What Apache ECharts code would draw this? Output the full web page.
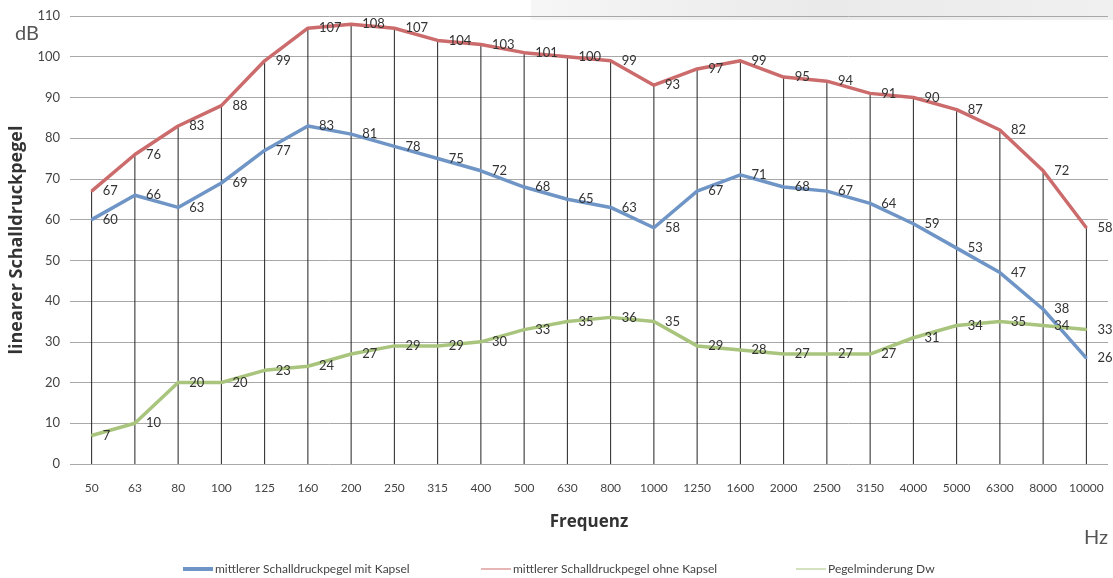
<!DOCTYPE html>
<html>
<head>
<meta charset="utf-8">
<script src="https://cdn.jsdelivr.net/npm/echarts@6/dist/echarts.min.js"></script>
<style>
  html, body { margin: 0; padding: 0; background: #fff; }
  #chart { width: 1113px; height: 578px; }
</style>
</head>
<body>
<div id="chart"></div>
<script>
var frequencies = ['50', '63', '80', '100', '125', '160', '200', '250', '315', '400', '500', '630',
    '800', '1000', '1250', '1600', '2000', '2500', '3150', '4000', '5000', '6300', '8000', '10000'];
var mitKapsel = [60, 66, 63, 69, 77, 83, 81, 78, 75, 72, 68, 65, 63, 58, 67, 71, 68, 67, 64, 59, 53, 47, 38, 26];
var ohneKapsel = [67, 76, 83, 88, 99, 107, 108, 107, 104, 103, 101, 100, 99, 93, 97, 99, 95, 94, 91, 90, 87, 82, 72, 58];
var minderung = [7, 10, 20, 20, 23, 24, 27, 29, 29, 30, 33, 35, 36, 35, 29, 28, 27, 27, 27, 31, 34, 35, 34, 33];
var yTicks = [0, 10, 20, 30, 40, 50, 60, 70, 80, 90, 100, 110];

var nameMit = 'mittlerer Schalldruckpegel mit Kapsel',
    nameOhne = 'mittlerer Schalldruckpegel ohne Kapsel',
    nameDw = 'Pegelminderung Dw';

var font = 'Lato, "Open Sans", sans-serif';
var boldFont = '"Open Sans", "DejaVu Sans", sans-serif';

var chart = echarts.init(document.getElementById('chart'));

function lineLabel() {
    return {
        show: true,
        position: 'right',
        distance: 10,
        offset: [0, 3],
        color: '#333',
        fontSize: 13,
        fontFamily: font
    };
}

function lineSeries(name, data, color) {
    return {
        type: 'line',
        name: name,
        data: data,
        symbol: 'circle',
        symbolSize: 2,
        showSymbol: true,
        color: color,
        itemStyle: { color: color },
        lineStyle: { width: 3.5, color: color },
        label: lineLabel(),
        labelLayout: { hideOverlap: false },
        z: 3
    };
}

function legendFor(name, left, h) {
    return {
        data: [name],
        left: left,
        top: 558,
        icon: 'rect',
        itemWidth: 30,
        itemHeight: h,
        itemGap: 4,
        selectedMode: false,
        textStyle: { color: '#444', fontSize: 12, fontFamily: font, padding: [0, 0, 0, -3] }
    };
}

chart.setOption({
    animation: false,
    grid: { left: 66, right: 5, top: 16, bottom: 114 },
    legend: [
        legendFor(nameMit, 178, 4),
        legendFor(nameOhne, 476, 1),
        legendFor(nameDw, 791, 1)
    ],
    graphic: [
        {
            type: 'rect',
            shape: { x: 531, y: 0, width: 582, height: 20 },
            style: {
                fill: new echarts.graphic.LinearGradient(0, 0, 1, 0, [
                    { offset: 0, color: '#f6f6f6' },
                    { offset: 0.5, color: '#eaeaea' },
                    { offset: 1, color: '#f0f0f0' }
                ])
            },
            z: -1
        },
        { type: 'text', left: 15, top: 24, style: { text: 'dB', fontSize: 20, fill: '#555', fontFamily: font } },
        { type: 'text', left: 1084, top: 528, style: { text: 'Hz', fontSize: 20, fill: '#555', fontFamily: font } }
    ],
    xAxis: {
        type: 'category',
        data: frequencies,
        name: 'Frequenz',
        nameLocation: 'middle',
        nameGap: 50,
        nameTextStyle: { fontSize: 17, fontWeight: 'bold', color: '#333', fontFamily: boldFont },
        axisLine: { show: false },
        axisTick: { show: false },
        axisLabel: { color: '#444', fontSize: 12, margin: 18, fontFamily: font, interval: 0 }
    },
    yAxis: {
        type: 'value',
        min: yTicks[0],
        max: yTicks[yTicks.length - 1],
        interval: 10,
        name: 'linearer Schalldruckpegel',
        nameLocation: 'middle',
        nameGap: 44,
        nameRotate: 90,
        nameTextStyle: { fontSize: 18, fontWeight: 'bold', color: '#333', fontFamily: boldFont },
        axisLine: { show: false },
        axisTick: { show: false },
        axisLabel: { color: '#444', fontSize: 13, margin: 10, fontFamily: font },
        splitLine: { lineStyle: { color: '#a8a8a8', width: 1 } }
    },
    series: [
        {
            // drop lines from the top curve down to the axis
            type: 'bar',
            name: 'drop',
            data: ohneKapsel,
            barWidth: 1,
            silent: true,
            itemStyle: { color: '#222' },
            z: 1
        },
        lineSeries(nameOhne, ohneKapsel, '#cc6b6b'),
        lineSeries(nameMit, mitKapsel, '#6f95c6'),
        lineSeries(nameDw, minderung, '#a9c47c')
    ]
});
</script>
</body>
</html>
